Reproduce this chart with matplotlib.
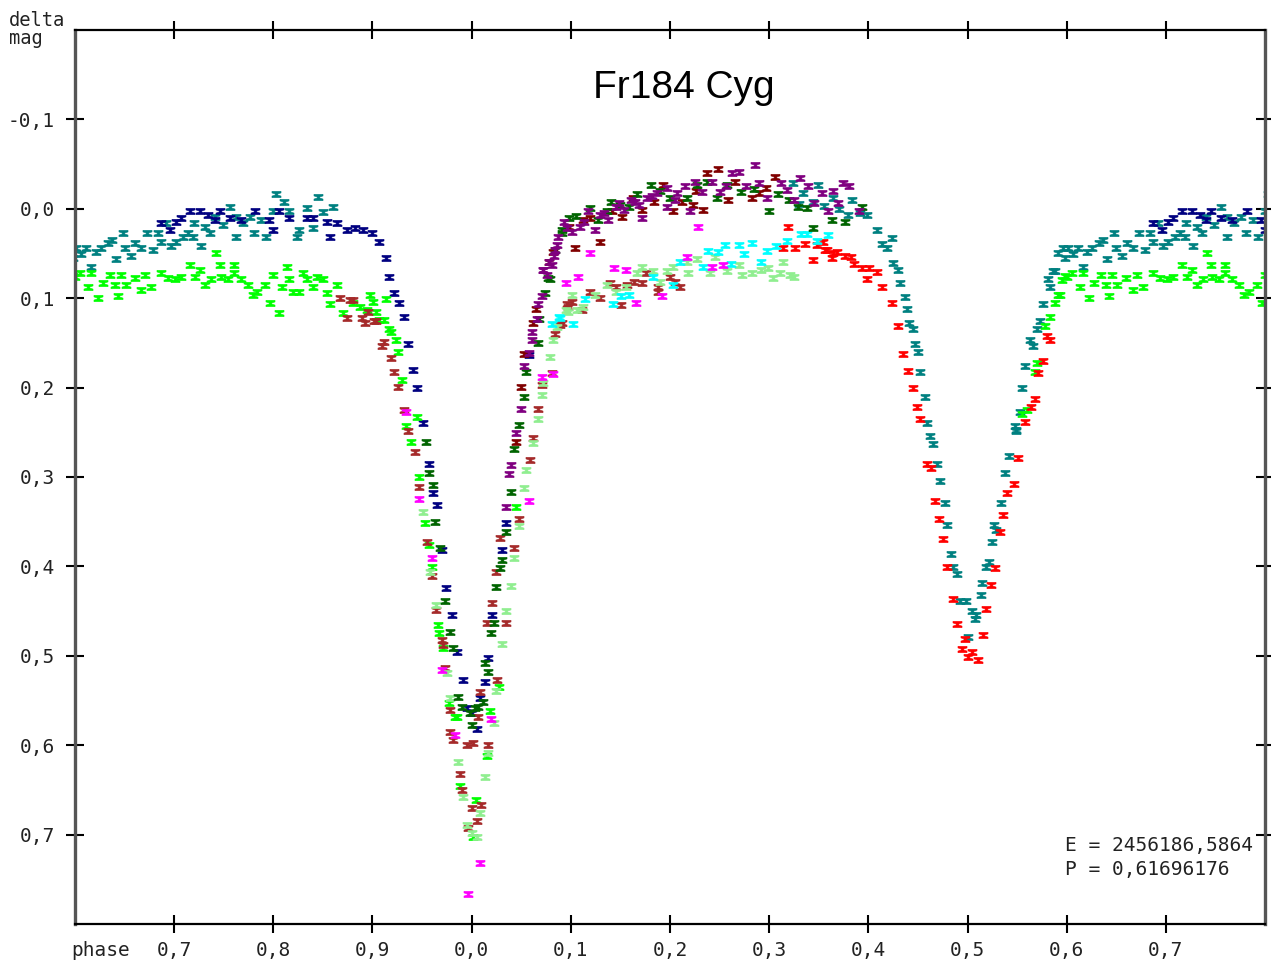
import matplotlib
matplotlib.use("Agg")
import matplotlib.pyplot as plt
from matplotlib.path import Path
from matplotlib.ticker import FuncFormatter
import numpy as np

# phase (0..1) and delta mag per observing run
teal_phase = [0.548, 0.549, 0.553, 0.555, 0.558, 0.563, 0.566, 0.570, 0.573, 0.576, 0.581, 0.583, 0.586, 0.588,
              0.591, 0.596, 0.598, 0.601, 0.606, 0.611, 0.616, 0.621, 0.626, 0.633, 0.637, 0.641, 0.648, 0.650,
              0.656, 0.661, 0.667, 0.673, 0.679, 0.684, 0.687, 0.692, 0.697, 0.702, 0.709, 0.714, 0.719, 0.720,
              0.727, 0.731, 0.736, 0.741, 0.749, 0.756, 0.762, 0.762, 0.769, 0.776, 0.781, 0.788, 0.793, 0.800,
              0.803, 0.811, 0.816, 0.824, 0.826, 0.834, 0.840, 0.845, 0.850, 0.860,
              0.324, 0.330, 0.334, 0.344, 0.349, 0.355, 0.364, 0.370, 0.379, 0.384, 0.392, 0.399,
              0.409, 0.414, 0.419, 0.424, 0.425, 0.430, 0.432, 0.437, 0.439, 0.441, 0.445, 0.447, 0.450, 0.452,
              0.457, 0.459, 0.462, 0.465, 0.469, 0.472, 0.477, 0.479, 0.483, 0.485, 0.489, 0.492, 0.498, 0.501,
              0.505, 0.509, 0.508, 0.514, 0.515, 0.519, 0.522, 0.525, 0.527, 0.529, 0.534, 0.538, 0.542, 0.549]
teal_mag = [0.243, 0.247, 0.227, 0.201, 0.176, 0.147, 0.153, 0.135, 0.126, 0.107, 0.078, 0.088, 0.070, 0.070,
            0.050, 0.044, 0.055, 0.044, 0.051, 0.044, 0.065, 0.048, 0.044, 0.038, 0.035, 0.056, 0.027, 0.044,
            0.053, 0.038, 0.044, 0.027, 0.046, 0.027, 0.037, 0.016, 0.042, 0.037, 0.032, 0.027, 0.031, 0.016,
            0.042, 0.020, 0.027, 0.009, 0.018, -0.002, 0.009, 0.032, 0.016, 0.009, 0.027, 0.012, 0.032, 0.003,
            -0.016, -0.008, 0.003, 0.032, 0.024, -0.001, 0.021, -0.013, 0.004, -0.002,
            -0.029, -0.005, -0.018, -0.008, -0.027, -0.003, -0.012, 0.000, 0.007, -0.010, 0.005, 0.007,
            0.024, 0.039, 0.044, 0.033, 0.061, 0.068, 0.083, 0.099, 0.112, 0.128, 0.134, 0.151, 0.160, 0.183,
            0.210, 0.240, 0.254, 0.263, 0.285, 0.304, 0.329, 0.354, 0.386, 0.401, 0.409, 0.439, 0.439, 0.479,
            0.450, 0.454, 0.459, 0.432, 0.419, 0.401, 0.395, 0.373, 0.354, 0.359, 0.329, 0.295, 0.276, 0.248]

navy_phase = [0.687, 0.696, 0.702, 0.707, 0.716, 0.726, 0.734, 0.741, 0.746, 0.756, 0.767, 0.782, 0.796, 0.800,
              0.806, 0.816, 0.834, 0.840, 0.854, 0.857, 0.864, 0.874, 0.882, 0.890, 0.899, 0.907, 0.914, 0.917,
              0.922, 0.927, 0.932, 0.936, 0.941, 0.945, 0.951, 0.957, 0.961, 0.965, 0.970, 0.974, 0.980, 0.985,
              0.991, 0.995, 0.000, 0.005, 0.008, 0.013, 0.016, 0.021, 0.031, 0.035, 0.058]
navy_mag = [0.016, 0.024, 0.015, 0.010, 0.003, 0.003, 0.007, 0.012, 0.003, 0.010, 0.012, 0.003, 0.012, 0.024,
            0.003, 0.010, 0.010, 0.010, 0.015, 0.031, 0.016, 0.024, 0.021, 0.024, 0.027, 0.037, 0.055, 0.076,
            0.094, 0.105, 0.121, 0.151, 0.180, 0.201, 0.240, 0.285, 0.318, 0.331, 0.382, 0.424, 0.454, 0.496,
            0.527, 0.558, 0.564, 0.582, 0.547, 0.529, 0.503, 0.454, 0.382, 0.351, 0.163]

green_phase = [0.555, 0.560, 0.568, 0.570, 0.578, 0.583, 0.588, 0.591, 0.593, 0.595, 0.598,
               0.600, 0.605, 0.613, 0.616, 0.623, 0.628, 0.635, 0.640, 0.643, 0.646, 0.651, 0.660, 0.667, 0.671,
               0.677, 0.687, 0.694, 0.701, 0.707, 0.716, 0.721, 0.726, 0.731, 0.737, 0.742, 0.746, 0.747, 0.754,
               0.760, 0.760, 0.767, 0.774, 0.779, 0.784, 0.792, 0.797, 0.800,
               0.806, 0.809, 0.814, 0.816, 0.820, 0.826, 0.830, 0.834, 0.840, 0.844, 0.850, 0.854, 0.857, 0.864,
               0.870, 0.880, 0.887, 0.894, 0.897, 0.900, 0.904, 0.907, 0.912, 0.914, 0.917, 0.919, 0.924, 0.926,
               0.930, 0.934, 0.939, 0.945, 0.947, 0.953, 0.957, 0.960, 0.966, 0.967, 0.971, 0.977, 0.983, 0.985,
               0.988, 0.001, 0.004, 0.015, 0.018, 0.028, 0.045]
green_mag = [0.229, 0.225, 0.182, 0.172, 0.131, 0.121, 0.105, 0.096, 0.096, 0.080, 0.075,
             0.076, 0.072, 0.088, 0.072, 0.100, 0.083, 0.074, 0.085, 0.098, 0.074, 0.085, 0.077, 0.091, 0.074,
             0.087, 0.072, 0.077, 0.079, 0.076, 0.063, 0.076, 0.068, 0.085, 0.079, 0.049, 0.063, 0.076, 0.079,
             0.063, 0.072, 0.079, 0.085, 0.096, 0.093, 0.085, 0.105, 0.074,
             0.117, 0.087, 0.065, 0.079, 0.093, 0.093, 0.072, 0.079, 0.087, 0.076, 0.079, 0.094, 0.107, 0.085,
             0.117, 0.105, 0.110, 0.113, 0.096, 0.104, 0.115, 0.124, 0.124, 0.101, 0.135, 0.138, 0.147, 0.160,
             0.192, 0.243, 0.261, 0.233, 0.300, 0.351, 0.376, 0.401, 0.466, 0.475, 0.491, 0.553, 0.569, 0.569,
             0.646, 0.703, 0.661, 0.612, 0.562, 0.535, 0.334]

brown_phase = [0.867, 0.874, 0.877, 0.880, 0.889, 0.892, 0.895, 0.902, 0.904, 0.912, 0.910, 0.919, 0.922,
               0.926, 0.932, 0.936, 0.943, 0.947, 0.955, 0.960, 0.964, 0.970, 0.971, 0.973, 0.978, 0.978, 0.981,
               0.988, 0.990, 0.995, 0.996, 0.001, 0.000, 0.005, 0.006, 0.009, 0.016, 0.008, 0.015, 0.021, 0.025,
               0.026, 0.029, 0.035, 0.043, 0.048, 0.059, 0.062, 0.067, 0.071, 0.081, 0.084, 0.089, 0.091, 0.096,
               0.097, 0.101, 0.111, 0.119, 0.129, 0.139, 0.146, 0.151, 0.157, 0.164, 0.172, 0.176, 0.188, 0.188,
               0.200, 0.205, 0.210]
brown_mag = [0.100, 0.122, 0.102, 0.102, 0.122, 0.128, 0.115, 0.126, 0.126, 0.149, 0.153, 0.167, 0.183,
             0.199, 0.225, 0.249, 0.272, 0.311, 0.373, 0.411, 0.449, 0.482, 0.488, 0.514, 0.561, 0.585, 0.594,
             0.632, 0.650, 0.600, 0.693, 0.598, 0.670, 0.685, 0.569, 0.667, 0.600, 0.541, 0.463, 0.441, 0.406,
             0.527, 0.368, 0.463, 0.379, 0.347, 0.281, 0.256, 0.224, 0.197, 0.184, 0.140, 0.130, 0.128, 0.107,
             0.110, 0.104, 0.113, 0.093, 0.100, 0.083, 0.087, 0.108, 0.085, 0.082, 0.083, 0.072, 0.087, 0.093,
             0.076, 0.082, 0.087]

maroon_phase = [0.045, 0.050, 0.053, 0.062, 0.065, 0.078, 0.082, 0.104, 0.112, 0.119, 0.129, 0.152, 0.172,
                0.184, 0.193, 0.203, 0.212, 0.223, 0.233, 0.237, 0.248, 0.258, 0.283, 0.297, 0.306,
                0.098, 0.142, 0.163, 0.226, 0.266, 0.290]
maroon_mag = [0.261, 0.199, 0.162, 0.128, 0.112, 0.060, 0.048, 0.044, 0.012, 0.010, 0.037, 0.009, 0.001,
              -0.008, -0.027, 0.003, -0.008, -0.004, 0.001, -0.040, -0.044, -0.010, -0.012, -0.023, -0.036,
              0.020, 0.002, -0.012, -0.020, -0.030, -0.018]

red_phase = [0.314, 0.319, 0.326, 0.336, 0.344, 0.348, 0.354, 0.356, 0.358, 0.363, 0.364, 0.368, 0.376, 0.383,
             0.386, 0.394, 0.399, 0.401, 0.409, 0.414, 0.424, 0.430, 0.435, 0.440, 0.445, 0.449, 0.452, 0.459,
             0.463, 0.467, 0.471, 0.475, 0.479, 0.485, 0.489, 0.494, 0.497, 0.501, 0.505, 0.511, 0.516, 0.519,
             0.524, 0.528, 0.533, 0.536, 0.540, 0.547, 0.551, 0.558, 0.564, 0.568, 0.571, 0.576, 0.580, 0.583]
red_mag = [0.044, 0.020, 0.044, 0.039, 0.057, 0.040, 0.037, 0.046, 0.046, 0.055, 0.049, 0.048, 0.053, 0.054,
           0.062, 0.066, 0.079, 0.066, 0.071, 0.088, 0.105, 0.131, 0.162, 0.181, 0.201, 0.222, 0.235, 0.285,
           0.290, 0.327, 0.347, 0.369, 0.401, 0.436, 0.464, 0.492, 0.481, 0.501, 0.496, 0.505, 0.477, 0.448,
           0.421, 0.402, 0.362, 0.342, 0.318, 0.308, 0.279, 0.238, 0.222, 0.213, 0.184, 0.170, 0.142, 0.147]

magenta_phase = [0.934, 0.947, 0.960, 0.970, 0.983, 0.996, 0.008, 0.020, 0.058, 0.071, 0.082, 0.095, 0.107,
                 0.119, 0.144, 0.156, 0.166, 0.192, 0.217, 0.228, 0.242, 0.253]
magenta_mag = [0.227, 0.325, 0.391, 0.516, 0.589, 0.767, 0.732, 0.571, 0.327, 0.188, 0.185, 0.083, 0.076,
               0.050, 0.066, 0.069, 0.105, 0.098, 0.054, 0.020, 0.065, 0.063]

dkgreen_phase = [0.954, 0.957, 0.961, 0.963, 0.968, 0.973, 0.978, 0.981, 0.986, 0.990, 0.998, 0.000, 0.003,
                 0.006, 0.011, 0.013, 0.016, 0.019, 0.023, 0.025, 0.029, 0.031, 0.035, 0.040, 0.043, 0.048,
                 0.053, 0.055, 0.067, 0.068, 0.074, 0.077, 0.079, 0.084, 0.091, 0.091, 0.098, 0.119, 0.136,
                 0.141, 0.159, 0.167, 0.181, 0.200, 0.217, 0.227, 0.247, 0.257, 0.272, 0.300, 0.309, 0.329,
                 0.338, 0.344, 0.363, 0.376, 0.394, 0.105, 0.127, 0.150, 0.190, 0.237, 0.285, 0.320]
dkgreen_mag = [0.261, 0.295, 0.309, 0.350, 0.379, 0.439, 0.473, 0.491, 0.546, 0.557, 0.564, 0.577, 0.558,
               0.557, 0.552, 0.508, 0.518, 0.475, 0.463, 0.423, 0.402, 0.393, 0.361, 0.317, 0.269, 0.242,
               0.210, 0.182, 0.150, 0.123, 0.094, 0.077, 0.078, 0.046, 0.027, 0.024, 0.010, -0.001, 0.003,
               -0.008, -0.002, -0.016, -0.027, -0.012, -0.012, -0.027, -0.012, -0.027, -0.019, 0.003, -0.016,
               -0.002, -0.001, 0.021, 0.012, 0.015, -0.002, 0.008, 0.012, -0.004, -0.020, -0.030, -0.022, -0.010]

purple_phase = [0.035, 0.038, 0.040, 0.045, 0.050, 0.053, 0.058, 0.061, 0.061, 0.066, 0.067, 0.071, 0.072,
                0.072, 0.076, 0.078, 0.081, 0.083, 0.084, 0.086, 0.087, 0.093, 0.101, 0.109, 0.117, 0.124,
                0.129, 0.137, 0.146, 0.154, 0.161, 0.169, 0.172, 0.177, 0.187, 0.197, 0.197, 0.207, 0.215,
                0.220, 0.232, 0.242, 0.250, 0.263, 0.270, 0.277, 0.286, 0.290, 0.312, 0.318, 0.331, 0.339,
                0.353, 0.359, 0.369, 0.374, 0.381, 0.391, 0.096, 0.113, 0.133, 0.149, 0.165, 0.182, 0.205,
                0.225, 0.256, 0.298, 0.325, 0.345, 0.364]
purple_mag = [0.334, 0.297, 0.287, 0.251, 0.224, 0.176, 0.161, 0.138, 0.147, 0.123, 0.107, 0.098, 0.069,
              0.068, 0.074, 0.060, 0.063, 0.053, 0.046, 0.040, 0.031, 0.015, 0.026, 0.020, 0.003, 0.024,
              0.007, 0.012, -0.002, 0.001, -0.010, -0.004, 0.010, -0.012, -0.018, -0.023, -0.002, -0.018, -0.025,
              0.003, -0.019, -0.030, -0.019, -0.040, -0.041, -0.025, -0.049, -0.029, -0.029, -0.021, -0.035, -0.025,
              -0.018, 0.003, -0.007, -0.029, -0.025, 0.003, 0.022, 0.015, 0.005, -0.006, -0.008, -0.014, -0.010,
              -0.030, -0.026, -0.012, -0.010, -0.006, -0.020]

cyan_phase = [0.081, 0.088, 0.089, 0.102, 0.114, 0.143, 0.151, 0.159, 0.183, 0.203, 0.210, 0.233, 0.238,
              0.248, 0.255, 0.262, 0.270, 0.275, 0.283, 0.292, 0.298, 0.307, 0.318, 0.332, 0.338, 0.348, 0.359]
cyan_mag = [0.129, 0.121, 0.122, 0.129, 0.101, 0.107, 0.097, 0.096, 0.076, 0.085, 0.060, 0.065, 0.047,
            0.048, 0.041, 0.062, 0.041, 0.051, 0.038, 0.060, 0.047, 0.042, 0.036, 0.028, 0.028, 0.036, 0.029]

ltgreen_phase = [0.951, 0.958, 0.964, 0.975, 0.978, 0.986, 0.991, 0.995, 0.000, 0.005, 0.008, 0.013, 0.016,
                 0.023, 0.025, 0.031, 0.035, 0.040, 0.043, 0.048, 0.053, 0.055, 0.062, 0.067, 0.071, 0.072,
                 0.079, 0.082, 0.086, 0.095, 0.097, 0.101, 0.106, 0.112, 0.124, 0.136, 0.146, 0.156, 0.167,
                 0.172, 0.183, 0.190, 0.197, 0.203, 0.217, 0.218, 0.227, 0.240, 0.245, 0.257, 0.270, 0.273,
                 0.283, 0.292, 0.299, 0.304, 0.311, 0.314, 0.321, 0.325]
ltgreen_mag = [0.339, 0.406, 0.443, 0.519, 0.547, 0.619, 0.658, 0.689, 0.698, 0.703, 0.676, 0.636, 0.609,
               0.575, 0.539, 0.487, 0.450, 0.422, 0.391, 0.355, 0.312, 0.292, 0.262, 0.235, 0.208, 0.195,
               0.166, 0.147, 0.132, 0.113, 0.115, 0.096, 0.113, 0.110, 0.096, 0.085, 0.093, 0.087, 0.072,
               0.065, 0.070, 0.082, 0.070, 0.065, 0.060, 0.072, 0.056, 0.072, 0.054, 0.070, 0.063, 0.074,
               0.072, 0.069, 0.066, 0.077, 0.072, 0.060, 0.074, 0.076]

series = [
    (teal_phase, teal_mag, "#008080"),
    (navy_phase, navy_mag, "#000080"),
    (green_phase, green_mag, "#00ff00"),
    (brown_phase, brown_mag, "#a52a2a"),
    (red_phase, red_mag, "#ff0000"),
    (ltgreen_phase, ltgreen_mag, "#90ee90"),
    (cyan_phase, cyan_mag, "#00ffff"),
    (magenta_phase, magenta_mag, "#ff00ff"),
    (maroon_phase, maroon_mag, "#800000"),
    (dkgreen_phase, dkgreen_mag, "#006400"),
    (purple_phase, purple_mag, "#800080"),
]

x_ticks = [-0.3, -0.2, -0.1, 0.0, 0.1, 0.2, 0.3, 0.4, 0.5, 0.6, 0.7]
y_ticks = [-0.1, 0.0, 0.1, 0.2, 0.3, 0.4, 0.5, 0.6, 0.7]

# hourglass marker: two bars joined by a narrow waist
hg = Path([(-1, 0.7), (1, 0.7), (1, 0.35), (0.3, 0.12), (0.3, -0.12), (1, -0.35), (1, -0.7),
           (-1, -0.7), (-1, -0.35), (-0.3, -0.12), (-0.3, 0.12), (-1, 0.35), (-1, 0.7)],
          [Path.MOVETO] + [Path.LINETO] * 11 + [Path.CLOSEPOLY])

fig = plt.figure(figsize=(12.71, 9.65), dpi=100)
ax = fig.add_axes([75 / 1271, 1 - 924 / 965, 1190 / 1271, 894 / 965])

for ph, mg, col in series:
    ph = np.array(ph)
    mg = np.array(mg)
    # folded curve shown from phase 0.6 to 1.8, so plot every point at p and p-1
    xs = np.concatenate([ph, ph - 1])
    ys = np.concatenate([mg, mg])
    ax.plot(xs, ys, linestyle="none", marker=hg, markersize=6.5, color=col, markeredgewidth=0.4)

ax.set_xlim(-0.4, 0.8)
ax.set_ylim(0.8, -0.2)
ax.set_xticks(x_ticks)
ax.set_yticks(y_ticks)
ax.xaxis.set_major_formatter(FuncFormatter(lambda v, p: f"{round(v % 1, 2) % 1:.1f}".replace(".", ",")))
ax.yaxis.set_major_formatter(FuncFormatter(lambda v, p: f"{v:.1f}".replace(".", ",")))

mono = "DejaVu Sans Mono"
ax.tick_params(axis="both", direction="inout", length=13, width=1.5, color="black",
               top=True, right=True, labelsize=14, labelcolor="#222222")
ax.tick_params(axis="x", pad=6)
ax.tick_params(axis="y", pad=8)
for lab in ax.get_xticklabels() + ax.get_yticklabels():
    lab.set_family(mono)

for s in ["top", "bottom"]:
    ax.spines[s].set_linewidth(1.6)
    ax.spines[s].set_color("black")
for s in ["left", "right"]:
    ax.spines[s].set_linewidth(2.4)
    ax.spines[s].set_color("#555555")

fig.text(684 / 1271, 1 - 88 / 965, "Fr184 Cyg", family="Liberation Sans", fontsize=28,
         ha="center", va="center")
fig.text(9 / 1271, 1 - 21 / 965, "delta", family=mono, fontsize=13.5, va="center", color="#222222")
fig.text(9 / 1271, 1 - 38 / 965, "mag", family=mono, fontsize=13.5, va="center", color="#222222")
fig.text(71 / 1271, 1 - 950 / 965, "phase", family=mono, fontsize=14, va="center", color="#222222")
fig.text(1065 / 1271, 1 - 846 / 965, "E = 2456186,5864", family=mono, fontsize=14, va="center", color="#222222")
fig.text(1065 / 1271, 1 - 870 / 965, "P = 0,61696176", family=mono, fontsize=14, va="center", color="#222222")

fig.savefig("out.png", dpi=100)
